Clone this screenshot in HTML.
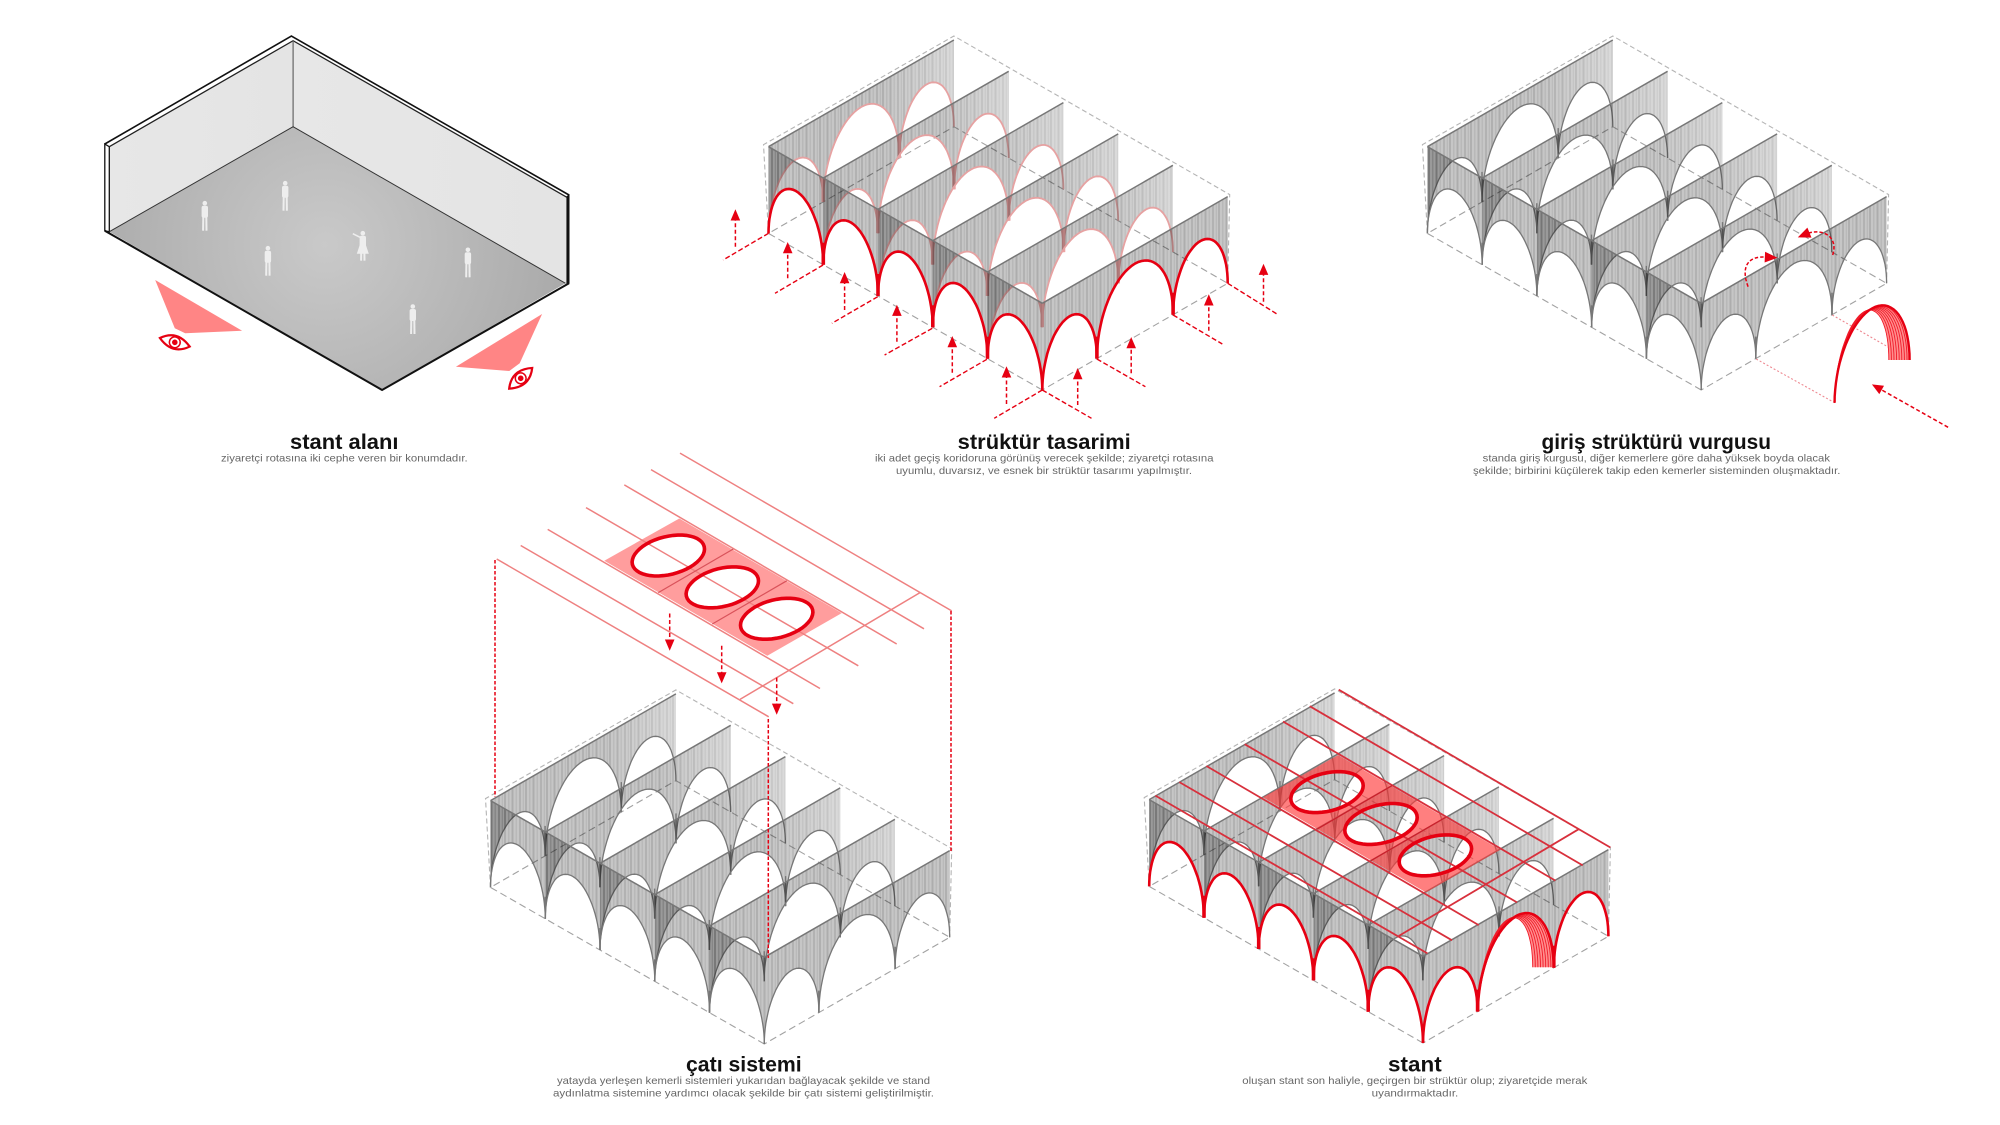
<!DOCTYPE html>
<html lang="tr"><head><meta charset="utf-8"><title>stant</title>
<style>
html,body{margin:0;padding:0;background:#fff;width:2000px;height:1125px;overflow:hidden}
svg{position:absolute;left:0;top:0;display:block}
text{font-family:"Liberation Sans","DejaVu Sans",sans-serif}
.t{font-size:21px;font-weight:700;fill:#111}
.d{font-size:10.5px;fill:#666}
</style></head><body>
<svg id="s" xmlns="http://www.w3.org/2000/svg" width="2000" height="1125" viewBox="0 0 2000 1125">
<defs>
<pattern id="st" patternUnits="userSpaceOnUse" width="21" height="10">
<rect width="21" height="10" fill="#c6c6c6"/>
<rect x="0" width="2" height="10" fill="#b0b0b0"/><rect x="4" width="1.5" height="10" fill="#b8b8b8"/>
<rect x="7.5" width="2" height="10" fill="#adadad"/><rect x="11.5" width="1.5" height="10" fill="#b9b9b9"/>
<rect x="15" width="2" height="10" fill="#b2b2b2"/><rect x="18.8" width="1" height="10" fill="#b6b6b6"/>
</pattern>
<linearGradient id="fade" x1="0" x2="1" y1="0" y2="0"><stop offset=".62" stop-color="#fff" stop-opacity="0"/><stop offset="1" stop-color="#fff" stop-opacity=".36"/></linearGradient>
<radialGradient id="fl" gradientUnits="userSpaceOnUse" cx="325" cy="245" r="250"><stop offset="0" stop-color="#c9c9c9"/><stop offset="1" stop-color="#a9a9a9"/></radialGradient>
<linearGradient id="wl" x1="0" x2="1" y1="0" y2="0"><stop offset="0" stop-color="#e7e7e7"/><stop offset="1" stop-color="#e4e4e4"/></linearGradient>
</defs>
<g id="art"></g>
<text class="t" x="290" y="449" textLength="108.5" lengthAdjust="spacingAndGlyphs">stant alanı</text>
<text class="d" x="221" y="461.7" textLength="246.7" lengthAdjust="spacingAndGlyphs">ziyaretçi rotasına iki cephe veren bir konumdadır.</text>
<text class="t" x="957.7" y="449" textLength="173" lengthAdjust="spacingAndGlyphs">strüktür tasarimi</text>
<text class="d" x="875" y="461.7" textLength="338.5" lengthAdjust="spacingAndGlyphs">iki adet geçiş koridoruna görünüş verecek şekilde; ziyaretçi rotasına</text>
<text class="d" x="896" y="474" textLength="296" lengthAdjust="spacingAndGlyphs">uyumlu, duvarsız, ve esnek bir strüktür tasarımı yapılmıştır.</text>
<text class="t" x="1541.5" y="449" textLength="229.5" lengthAdjust="spacingAndGlyphs">giriş strüktürü vurgusu</text>
<text class="d" x="1482.7" y="461.7" textLength="347.3" lengthAdjust="spacingAndGlyphs">standa giriş kurgusu, diğer kemerlere göre daha yüksek boyda olacak</text>
<text class="d" x="1473" y="474" textLength="367.4" lengthAdjust="spacingAndGlyphs">şekilde; birbirini küçülerek takip eden kemerler sisteminden oluşmaktadır.</text>
<text class="t" x="686" y="1071.5" textLength="115.7" lengthAdjust="spacingAndGlyphs">çatı sistemi</text>
<text class="d" x="557" y="1084" textLength="373" lengthAdjust="spacingAndGlyphs">yatayda yerleşen kemerli sistemleri yukarıdan bağlayacak şekilde ve stand</text>
<text class="d" x="553" y="1096.7" textLength="381" lengthAdjust="spacingAndGlyphs">aydınlatma sistemine yardımcı olacak şekilde  bir çatı sistemi geliştirilmiştir.</text>
<text class="t" x="1388" y="1071.5" textLength="53.7" lengthAdjust="spacingAndGlyphs">stant</text>
<text class="d" x="1242.3" y="1084" textLength="345" lengthAdjust="spacingAndGlyphs">oluşan stant son haliyle, geçirgen bir strüktür olup; ziyaretçide merak</text>
<text class="d" x="1371.7" y="1096.4" textLength="86.6" lengthAdjust="spacingAndGlyphs">uyandırmaktadır.</text>
</svg>
<script>
var o=[],RED='#e60012';
var LV=[-54.76,-31.33],RV=[185.4,-106.7],U=[0,.2946,.7054,1],H=86.7;
function f(n){return n.toFixed(1)}
function pts(a){return a.map(function(p){return f(p[0])+','+f(p[1])}).join(' ')}
function poly(a,attr){o.push('<polygon points="'+pts(a)+'" '+attr+'/>')}
function pl(a,attr){o.push('<polyline fill="none" points="'+pts(a)+'" '+attr+'/>')}
function line(a,b,attr){pl([a,b],attr)}
function P(F,i,u,h){return [F[0]+i*LV[0]+u*RV[0],F[1]+i*LV[1]+u*RV[1]-(h||0)]}
function arch(a,b,r){var s=[],N=36;for(var k=0;k<=N;k++){var th=Math.PI*(1-k/N),c=Math.cos(th),m=Math.sin(th);
 s.push([(a[0]+b[0])/2+(b[0]-a[0])/2*c,(a[1]+b[1])/2+(b[1]-a[1])/2*c-r*m])}return s}
function wall(bases,rs,stroke,sw,topc,fade,colc,colw,colh){
 var n=bases.length-1,first=bases[0],last=bases[n],outl=[[last[0],last[1]-H],[first[0],first[1]-H],first],arcs=[];
 for(var i=0;i<n;i++){var a=arch(bases[i],bases[i+1],rs[i]);arcs.push(a);outl=outl.concat(a.slice(1))}
 poly(outl,'fill="url(#st)" style="mix-blend-mode:multiply"');
 if(fade)poly(outl,'fill="url(#fade)"');
 for(var i=0;i<arcs.length;i++)pl(arcs[i],'stroke="'+stroke+'" stroke-width="'+sw+'"');
 for(var i=1;i<n;i++){var b=bases[i];line([b[0],b[1]-colh],b,'stroke="'+colc+'" stroke-width="'+colw+'"')}
 line([first[0],first[1]-H],[last[0],last[1]-H],'stroke="'+topc+'" stroke-width="1.5"');
}
function struct(F,inner,isw,front,fsw){
 var gd='stroke="#a2a2a2" stroke-width="1.1" stroke-dasharray="7 4"';
 var Lb=P(F,5,0),Rb=P(F,0,1),Bb=P(F,5,1);
 pl([F,Lb,Bb,Rb,F],gd);
 var Lt=[Lb[0]-5,Lb[1]-H-2],Bt=[Bb[0],Bb[1]-H-4],Rt=[Rb[0]+2,Rb[1]-H-2];
 pl([Lb,Lt,Bt,Rt,Rb],'stroke="#b4b4b4" stroke-width="1.1" stroke-dasharray="5 3"');
 var redInner=inner.charAt(1)=='e';
 for(var i=5;i>=1;i--){
  wall(U.map(function(u){return P(F,i,u)}),[58,73,58],inner,isw,'#777',true,redInner?'#eba3a3':'#777',redInner?3.4:1.4,redInner?24:30);
 }
 var ls=[];for(var i=5;i>=0;i--)ls.push(P(F,i,0));
 var frontw=front==RED?3.6:1.6;
 wall(ls,[58,58,58,58,58],front,fsw,'#777',false,front,frontw,22);
 wall(U.map(function(u){return P(F,0,u)}),[58,73,58],front,fsw,'#777',false,front,frontw,22);
}
function head(x,y,ang,s){s=s||8;var c=Math.cos(ang),n=Math.sin(ang);
 poly([[x+c*s,y+n*s],[x-c*s*.4-n*s*.6,y-n*s*.4+c*s*.6],[x-c*s*.4+n*s*.6,y-n*s*.4-c*s*.6]],'fill="'+RED+'"')}
function arrow(a,b){line(a,b,'stroke="'+RED+'" stroke-width="1.5" stroke-dasharray="4 2.5"');
 head(b[0],b[1],Math.atan2(b[1]-a[1],b[0]-a[0]))}
function z2(X,Y){return [700+X/2.6,20+Y/3]}
function z3(X,Y){return [1400+X/2.6,20+Y/3]}
function z1(X,Y){return [80+X/2.9,20+Y/3]}
function z4(X,Y){return [480+X/3,440+Y/2.294]}
function Zs(fn,a){return a.map(function(p){return fn(p[0],p[1])})}

/* ---------- panel 1 ---------- */
poly(Zs(z1,[[85,380],[618,62],[618,320],[85,635]]),'fill="url(#wl)"');
poly(Zs(z1,[[618,62],[1410,532],[1410,790],[618,320]]),'fill="url(#wl)"');
poly(Zs(z1,[[618,320],[1408,790],[876,1110],[85,635]]),'fill="url(#fl)"');
poly(Zs(z1,[[72,372],[85,380],[85,635],[72,632]]),'fill="#fff" stroke="#111" stroke-width="1.3"');
poly(Zs(z1,[[1412,530],[1418,525],[1418,790],[1412,790]]),'fill="#111" stroke="#111" stroke-width="1"');
pl(Zs(z1,[[72,372],[613,48],[1418,525]]),'stroke="#111" stroke-width="1.6"');
pl(Zs(z1,[[85,380],[618,62],[1412,532]]),'stroke="#222" stroke-width="1.3"');
line(z1(618,62),z1(618,320),'stroke="#666" stroke-width="1.2"');
pl(Zs(z1,[[85,635],[618,320],[1408,790]]),'stroke="#333" stroke-width="1"');
pl(Zs(z1,[[72,632],[876,1110],[1418,790]]),'stroke="#111" stroke-width="2"');
function person(X,Y,d){var p=z1(X,Y),x=p[0],y=p[1],c='fill="#eee"';
 o.push('<circle cx="'+f(x)+'" cy="'+f(y-13.5)+'" r="2.3" '+c+'/>');
 o.push('<rect x="'+f(x-3.2)+'" y="'+f(y-11)+'" width="6.4" height="12" rx="2" '+c+'/>');
 if(d){poly([[x-3,y-2],[x+3,y-2],[x+6,y+7],[x-6,y+7]],c);line([x,y-8],[x-10,y-13],'stroke="#eee" stroke-width="1.6"')}
 line([x-1.5,y],[x-1.7,y+14],'stroke="#eee" stroke-width="2"');line([x+1.5,y],[x+1.7,y+14],'stroke="#eee" stroke-width="2"');}
person(362,590);person(595,530);person(545,725);person(820,680,1);person(1125,730);person(965,900);
poly(Zs(z1,[[218,780],[275,925],[305,940],[470,932]]),'fill="#ff8585"');
poly(Zs(z1,[[1340,882],[1275,1030],[1245,1053],[1090,1040]]),'fill="#ff8585"');
function eye(c,rot){var t='transform="translate('+f(c[0])+','+f(c[1])+') rotate('+rot+')"';
 o.push('<g '+t+'><path d="M-15.5,0 Q-1,-13 15.5,0 Q1,13 -15.5,0Z" fill="#fff" stroke="'+RED+'" stroke-width="2.2"/><circle r="5.4" fill="none" stroke="'+RED+'" stroke-width="1.5"/><circle r="2.8" fill="'+RED+'"/></g>')}
eye(z1(275,967),16);eye(z1(1278,1075),-42);

/* ---------- panel 2 ---------- */
var F2=[1042.3,390];
struct(F2,'#e6a2a2',1.8,RED,2.6);
[[178,640,60,720],[320,735,195,820],[462,830,343,910],[604,925,480,1005],[746,1018,623,1100],[890,1110,765,1195],
 [890,1110,1018,1195],[1032,1017,1158,1100],[1230,885,1358,972],[1372,790,1500,882]].forEach(function(a){
 line(z2(a[0],a[1]),z2(a[2],a[3]),'stroke="'+RED+'" stroke-width="1.4" stroke-dasharray="5 2.5"')});
[[92,680,592],[228,775,690],[376,870,780],[512,965,878],[656,1058,972],[797,1152,1063],[982,1155,1068],[1121,1060,975],[1323,932,847],[1465,845,755]].forEach(function(a){
 arrow(z2(a[0],a[1]),z2(a[0],a[2]))});

/* ---------- panel 3 ---------- */
var F3=[1701.2,390];
struct(F3,'#777777',1.3,'#777777',1.3);
function entry(L,R,r){
 var outer=arch(L,R,r),inn=arch(L,[R[0]-21,R[1]],r-5);
 poly(outer.concat(inn.slice().reverse()),'fill="#ff8e8e"');
 for(var k=1;k<=8;k++)pl(arch(L,[R[0]-k*2.6,R[1]],r-k*.62),'stroke="#f01c2a" stroke-width=".9"');
 pl(outer,'stroke="'+RED+'" stroke-width="2.4"');
}
line(z3(926,1017),z3(1130,1148),'stroke="#ee8a92" stroke-width="1.1" stroke-dasharray="2 2"');
line(z3(1124,885),z3(1325,1018),'stroke="#ee8a92" stroke-width="1.1" stroke-dasharray="2 2"');
entry([1834.6,402.7],[1909.6,360],73);
arrow(z3(1425,1222),z3(1245,1105));
function cp(a){return a.map(function(p){var q=z3(p[0],p[1]);return f(q[0])+' '+f(q[1])})}
var c1=cp([[905,800],[885,740],[905,705],[955,712]]),c2=cp([[1125,705],[1140,650],[1100,625],[1060,640]]);
[c1,c2].forEach(function(c){o.push('<path fill="none" stroke="'+RED+'" stroke-width="1.5" stroke-dasharray="3.5 2" d="M'+c[0]+' C'+c[1]+' '+c[2]+' '+c[3]+'"/>')});
var a1=z3(958,712);head(a1[0],a1[1],.05,9);
var a2=z3(1056,642);head(a2[0],a2[1],2.75,9);

/* ---------- panel 4 and 5 ---------- */
function roof(dx,dy,lc,lw,dc,op){
 var T=function(X,Y){var p=z4(X,Y);return [p[0]+dx,p[1]+dy]};
 var rect=[[598,180],[1085,397],[862,495],[373,277]];
 var cs=[[565,265],[727,338],[890,410]],ell=[];
 cs.forEach(function(c){var q=T(c[0],c[1]),e=[],N=48,rot=-14*Math.PI/180,cr=Math.cos(rot),sr=Math.sin(rot);
  for(var k=0;k<=N;k++){var a=2*Math.PI*k/N,x=37*Math.cos(a),y=19*Math.sin(a);e.push([q[0]+x*cr-y*sr,q[1]+x*sr+y*cr])}
  ell.push(e)});
 var d='M'+pts(Zs(T,rect)).replace(/ /g,' L')+'Z';
 ell.forEach(function(e){d+=' M'+pts(e).replace(/ /g,' L')+'Z'});
 o.push('<path fill-rule="evenodd" fill="#ff3b3b" fill-opacity="'+op+'" d="'+d+'"/>');
 [[600,30,1415,392],[513,68,1332,433],[433,103,1250,468],[318,155,1135,518],[203,205,1020,570],[122,242,940,605],[50,273,866,635],[780,595,1320,350]].forEach(function(a){
  line(T(a[0],a[1]),T(a[2],a[3]),'stroke="'+lc+'" stroke-width="'+lw+'"')});
 [[535,350,760,250],[697,422,920,323]].forEach(function(a){line(T(a[0],a[1]),T(a[2],a[3]),'stroke="'+dc+'" stroke-width="1.2"')});
 ell.forEach(function(e){poly(e,'fill="none" stroke="'+RED+'" stroke-width="3.6"')});
}
struct([764.3,1044],'#777777',1.3,'#777777',1.3);
roof(0,0,'#ee8080',1.5,'#d9525a',.5);
[[495,560,797],[768.3,719,958],[951,611,852]].forEach(function(a){
 line([a[0],a[1]],[a[0],a[2]],'stroke="'+RED+'" stroke-width="1.5" stroke-dasharray="3.5 2"')});
arrow(z4(569,398),z4(569,465));arrow(z4(725,472),z4(725,540));arrow(z4(890,545),z4(890,612));

var F5=[1423,1043];
struct(F5,'#777777',1.3,RED,2.6);
roof(658.7,236.6,'#d8303c',1.8,'#c9202c',.65);
entry([1478,1011],[1553.5,967.3],73);

document.getElementById('art').innerHTML=o.join('');
</script>
</body></html>
